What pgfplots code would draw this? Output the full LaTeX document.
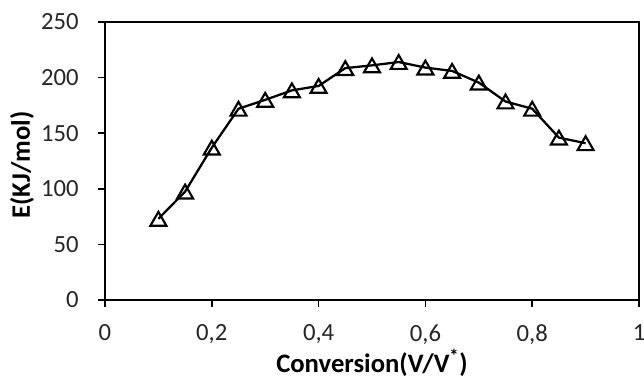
\documentclass[border=0pt]{standalone}
\usepackage{fontspec}
\setmainfont{Carlito}
\usepackage{pgfplots}
\pgfplotsset{compat=1.18}
\begin{document}
\begin{tikzpicture}
\begin{axis}[
  scale only axis,
  width=400.5pt, height=208.5pt,
  xmin=0, xmax=1, ymin=0, ymax=250,
  xtick={0,0.2,0.4,0.6,0.8,1},
  ytick={0,50,100,150,200,250},
  tick align=outside,
  tick pos=left,
  major tick length=5.25pt,
  tick style={black, line width=1.1pt},
  axis line style={black, line width=1.1pt},
  /pgf/number format/assume math mode=true,
  /pgf/number format/use comma,
  xticklabel style={font=\fontsize{18.5}{22}\selectfont, yshift=-9.5pt, text=black!85},
  yticklabel style={font=\fontsize{18.5}{22}\selectfont, xshift=-11pt, text=black!85},
  xlabel={\bfseries Conversion(V/V\textsuperscript{*})},
  ylabel={\bfseries E(KJ/mol)},
  label style={font=\fontsize{20}{24}\selectfont},
  xlabel style={at={(axis description cs:0.5,-0.2266)}, anchor=center},
  ylabel style={at={(axis description cs:-0.1554,0.486)}, anchor=center, rotate=0},
  clip=false,
]
\addplot[black, line width=1.7pt, mark=triangle, mark size=6.9pt,
  mark options={fill=white, line width=1.6pt, yshift=-1.7pt}] coordinates {
(0.10,73) (0.15,97.5) (0.20,137) (0.25,172) (0.30,180) (0.35,188.5)
(0.40,192.5) (0.45,208.5) (0.50,211) (0.55,214) (0.60,209) (0.65,206)
(0.70,195.5) (0.75,178.5) (0.80,172) (0.85,146) (0.90,141)
};
\end{axis}
\pgfresetboundingbox
\path ([shift={(-78.75pt,-63pt)}]current axis.south west) rectangle ([shift={(3.75pt,16.5pt)}]current axis.north east);
\end{tikzpicture}
\end{document}
